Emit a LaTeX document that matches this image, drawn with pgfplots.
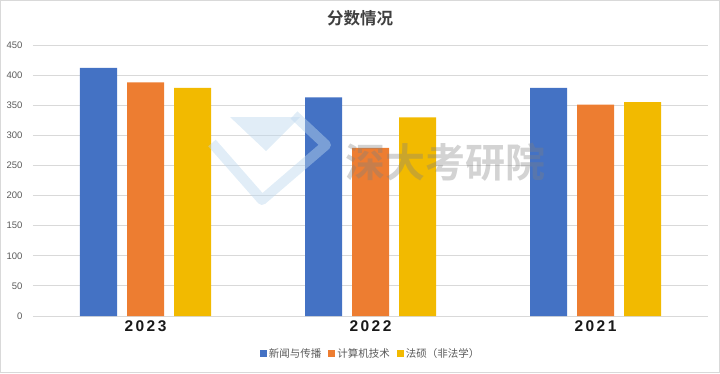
\documentclass[border=0pt]{standalone}
\usepackage{pgfplots}
\pgfplotsset{compat=1.18}
\usepackage{fontspec}
\setmainfont{Liberation Sans}
\newfontfamily\cjk{Noto Sans CJK SC}
\newfontfamily\cjkb{Noto Sans CJK SC Bold}
\definecolor{cblue}{HTML}{4472C4}
\definecolor{corange}{HTML}{ED7D31}
\definecolor{cyellow}{HTML}{F2BA00}
\definecolor{cgrid}{HTML}{D9D9D9}
\definecolor{ctext}{HTML}{595959}
\definecolor{clogo}{HTML}{BDD7EE}
\begin{document}
\begin{tikzpicture}
\path[use as bounding box] (0,0) rectangle (720pt,373pt);
\begin{axis}[
  at={(33pt,57pt)}, anchor=south west,
  scale only axis, width=675pt, height=271pt,
  ybar=10pt, bar width=37pt,
  xmin=-0.5, xmax=2.5, ymin=0, ymax=450,
  xtick={0,1,2}, xticklabels={2023,2022,2021},
  ytick={0,50,...,450},
  ymajorgrids, grid style={cgrid, line width=0.8pt},
  axis x line*=bottom, axis y line*=left,
  x axis line style={draw=cgrid, line width=0.8pt, -},
  y axis line style={draw=none},
  major tick length=0pt,
  /pgf/number format/assume math mode=true,
  yticklabel style={font=\fontsize{9.5}{10}\selectfont, text=ctext, xshift=-7pt},
  xticklabel style={font=\fontsize{15.5}{16}\selectfont\bfseries\addfontfeatures{LetterSpace=16}, text=black!90, yshift=-1pt},
  legend style={at={(0.5,-0.14)}, anchor=center, draw=none, fill=none,
    legend columns=3, font=\cjk\fontsize{10.5}{11}\selectfont, text=ctext,
    /tikz/every even column/.append style={column sep=5pt}},
  legend image code/.code={\fill[#1,draw=none] (0pt,-3.5pt) rectangle (7pt,3.5pt);},
]
\addplot[fill=cblue, draw=none] coordinates {(0,412) (1,363) (2,379)};
\addplot[fill=corange, draw=none] coordinates {(0,388) (1,279) (2,351)};
\addplot[fill=cyellow, draw=none] coordinates {(0,379) (1,330) (2,355)};
\legend{新闻与传播,计算机技术,法硕（非法学）}
\end{axis}
% title
\node[font=\cjkb\fontsize{16.5}{17}\selectfont, text=black!75] at (360pt,355pt) {分数情况};
% watermark
\begin{scope}[opacity=0.45]
\draw[clogo, line width=10pt, line join=round] (212pt,230pt) -- (262pt,173pt) -- (326pt,228pt) -- (294pt,258pt);
\fill[clogo] (230pt,256pt) -- (300pt,256pt) -- (266pt,222pt) -- cycle;
\end{scope}
\node[font=\cjkb\fontsize{40}{40}\selectfont, text=gray, opacity=0.35] at (445pt,211pt) {深大考研院};
\draw[cgrid, line width=0.8pt] (0.4pt,0.4pt) rectangle (719.6pt,372.6pt);
\end{tikzpicture}
\end{document}
